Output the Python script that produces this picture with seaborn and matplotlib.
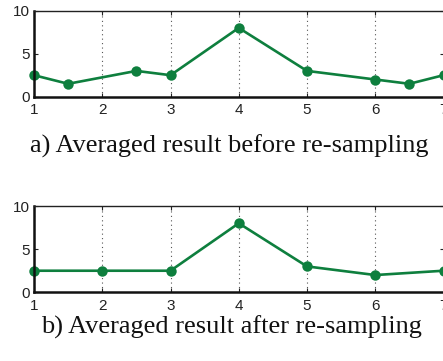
import matplotlib
matplotlib.use("Agg")
import matplotlib.pyplot as plt
import seaborn as sns
import pandas as pd

# Averaged samples before and after re-sampling
before_x = [1, 1.5, 2.5, 3, 4, 5, 6, 6.5, 7]
before_y = [2.5, 1.5, 3, 2.5, 8, 3, 2, 1.5, 2.5]
after_x = [1, 2, 3, 4, 5, 6, 7]
after_y = [2.5, 2.5, 2.5, 8, 3, 2, 2.5]

x_ticks = [1, 2, 3, 4, 5, 6, 7]
y_ticks = [0, 5, 10]
captions = ["a) Averaged result before re-sampling",
            "b) Averaged result after re-sampling"]

sns.set_theme(style="white")
plt.rcParams["font.family"] = ["Liberation Sans", "DejaVu Sans"]

W, H = 443, 361
fig = plt.figure(figsize=(W / 100, H / 100), dpi=100)

GREEN = "#0e7f3e"


def panel(top_px, bottom_px, xs, ys):
    left_px, right_px = 34, 443.5
    ax = fig.add_axes([left_px / W, 1 - bottom_px / H,
                       (right_px - left_px) / W, (bottom_px - top_px) / H])
    df = pd.DataFrame({"x": xs, "y": ys})
    sns.lineplot(data=df, x="x", y="y", ax=ax, color=GREEN, linewidth=1.9,
                 marker="o", markersize=7.5, markeredgewidth=0)
    ax.set_xlim(1, 7)
    ax.set_ylim(0, 10)
    ax.set_xticks(x_ticks)
    ax.set_yticks(y_ticks)
    ax.set_xlabel("")
    ax.set_ylabel("")
    ax.xaxis.grid(True, linestyle=(0, (1, 3)), color="#555555", linewidth=0.8)
    ax.yaxis.grid(False)
    ax.tick_params(axis="both", direction="in", length=3, width=0.8,
                   labelsize=11, colors="#222222")
    ax.tick_params(axis="y", right=True, left=True, pad=3)
    ax.tick_params(axis="x", bottom=True, top=True, pad=4.5)
    for side in ("left", "bottom"):
        ax.spines[side].set_linewidth(1.8)
        ax.spines[side].set_color("#111111")
    for side in ("top", "right"):
        ax.spines[side].set_linewidth(1.0)
        ax.spines[side].set_color("#222222")
    for line in ax.lines:
        line.set_clip_on(False)
    return ax


panel(10.7, 96.7, before_x, before_y)
panel(206, 292.3, after_x, after_y)

serif = ["Liberation Serif", "DejaVu Serif"]
fig.text(229.5 / W, 1 - 146 / H, captions[0], ha="center", va="center",
         fontsize=19, family=serif, color="#111111")
fig.text(231 / W, 1 - 327 / H, captions[1], ha="center", va="center",
         fontsize=19, family=serif, color="#111111")

fig.savefig("out.png", dpi=100)
